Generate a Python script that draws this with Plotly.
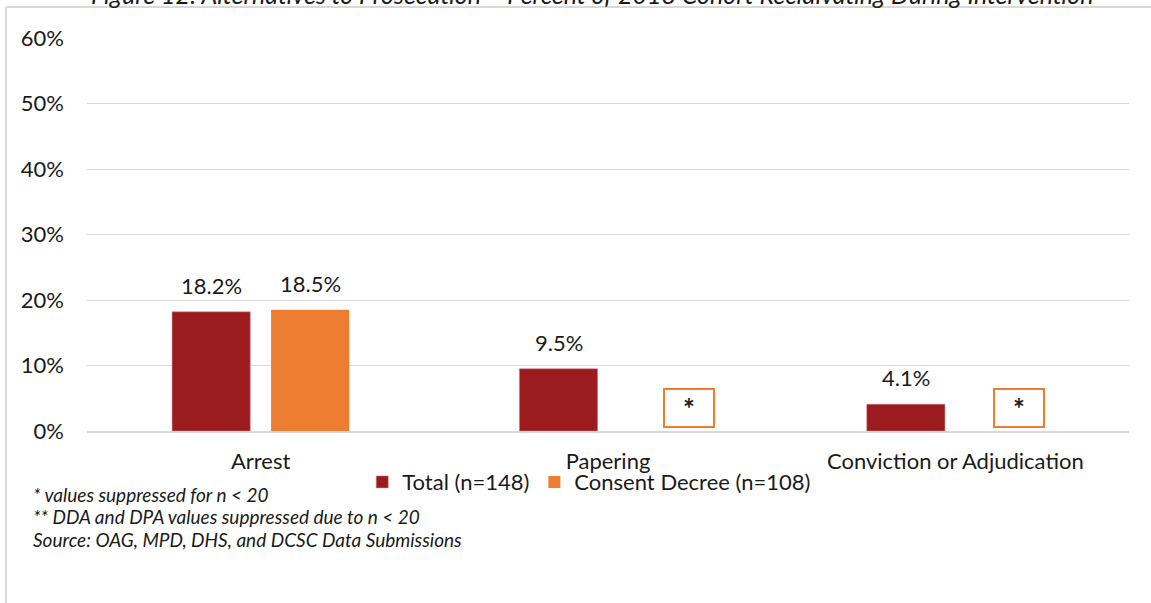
import plotly.graph_objects as go

categories = ["Arrest", "Papering", "Conviction or Adjudication"]
total_vals = [18.2, 9.5, 4.1]
consent_vals = [18.5, None, None]
series_names = ["Total (n=148)", "Consent Decree (n=108)"]
suppressed_idx = [1, 2]
footnotes = [
    "* values suppressed for n < 20",
    "** DDA and DPA values suppressed due to n < 20",
    "Source: OAG, MPD, DHS, and DCSC Data Submissions",
]
title_text = "Figure 12: Alternatives to Prosecution – Percent of 2018 Cohort Recidivating During Intervention"

RED = "#9b1b1f"
ORANGE = "#ed7d31"
FONT = "Lato, 'Open Sans', sans-serif"
TXT = "#1a1a1a"
FS = 22

fig = go.Figure()
fig.add_bar(x=categories, y=total_vals, name=series_names[0],
            marker=dict(color=RED, line=dict(color="#c98a8c", width=0.5)))
fig.add_bar(x=categories, y=consent_vals, name=series_names[1],
            marker=dict(color=ORANGE, line=dict(width=0)))

annotations = []
for i, v in enumerate(total_vals):
    if v is not None:
        annotations.append(dict(x=categories[i], y=v, xref="x", yref="y", text=f"{v:.1f}%",
                                showarrow=False, yanchor="bottom", xshift=-49.5, yshift=11,
                                font=dict(family=FONT, size=FS, color=TXT)))
for i, v in enumerate(consent_vals):
    if v is not None:
        annotations.append(dict(x=categories[i], y=v, xref="x", yref="y", text=f"{v:.1f}%",
                                showarrow=False, yanchor="bottom", xshift=49.5, yshift=11,
                                font=dict(family=FONT, size=FS, color=TXT)))

box_offsets = {1: 0.233, 2: 0.184}
for i in suppressed_idx:
    annotations.append(dict(x=i + box_offsets[i], y=3.5, xref="x", yref="y", text="<b>*</b>",
                            showarrow=False, width=48, height=36, bordercolor=ORANGE,
                            borderwidth=2, borderpad=0, bgcolor="white", valign="middle",
                            yshift=0, font=dict(family=FONT, size=28, color=TXT)))

for k, t in enumerate(footnotes):
    annotations.append(dict(x=-0.0538, y=-0.161 - k * 0.0575, xref="paper", yref="paper",
                            text=f"<i>{t}</i>", showarrow=False, xanchor="left", yanchor="middle",
                            font=dict(family=FONT, size=19, color=TXT)))

annotations.append(dict(x=0.485, y=1.0, xref="paper", yref="paper", text=f"<i>{title_text}</i>",
                        showarrow=False, xanchor="center", yanchor="middle", yshift=44,
                        font=dict(family=FONT, size=25, color=TXT)))

fig.update_layout(
    width=1151, height=603,
    margin=dict(l=87, r=22, t=38, b=172),
    paper_bgcolor="white", plot_bgcolor="white",
    barmode="group", bargap=0.43, bargroupgap=0.21,
    font=dict(family=FONT, size=FS, color=TXT),
    showlegend=True,
    legend=dict(orientation="h", x=0.482, y=-0.13, xanchor="center", yanchor="middle",
                bgcolor="rgba(0,0,0,0)",
                font=dict(family=FONT, size=FS, color=TXT), itemwidth=30, traceorder="normal"),
    annotations=annotations,
    shapes=[
        dict(type="line", xref="paper", yref="paper", x0=-0.0778, x1=1.03,
             y0=1 + 31 / 393, y1=1 + 31 / 393, line=dict(color="#d9d9d9", width=2)),
        dict(type="line", xref="paper", yref="paper", x0=-0.0778, x1=-0.0778,
             y0=1 + 31 / 393, y1=-0.5, line=dict(color="#d9d9d9", width=2)),
    ],
)
fig.update_yaxes(range=[0, 60], dtick=10, ticksuffix="%", showgrid=True, gridcolor="#d9d9d9",
                 gridwidth=1, zeroline=False, showline=False, ticks="", ticklabelstandoff=22,
                 tickfont=dict(family=FONT, size=FS, color=TXT))
fig.update_xaxes(showline=True, linecolor="#d9d9d9", linewidth=2, ticks="", ticklabelstandoff=10,
                 tickfont=dict(family=FONT, size=FS, color=TXT))

fig.write_html("out.html", config={"displayModeBar": False},
               post_script="document.body.style.margin='0';")
